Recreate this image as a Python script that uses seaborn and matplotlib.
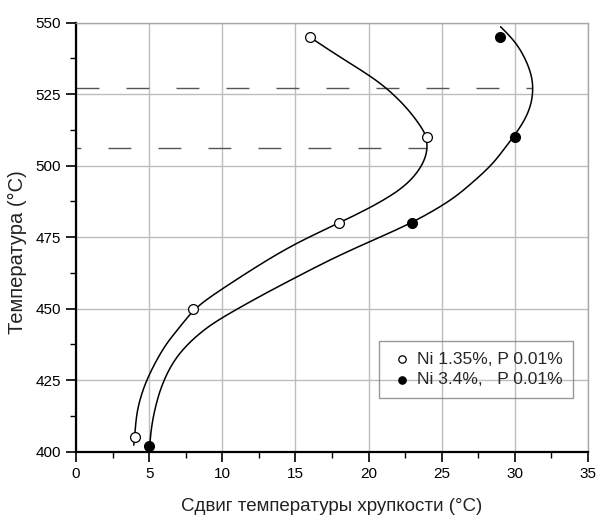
import matplotlib
matplotlib.use("Agg")
import matplotlib.pyplot as plt
from matplotlib.ticker import MultipleLocator
import numpy as np
import seaborn as sns

# Экспериментальные точки
shift_ni135 = [4, 8, 18, 24, 16]
temp_ni135 = [405, 450, 480, 510, 545]
shift_ni34 = [5, 23, 30, 29]
temp_ni34 = [402, 480, 510, 545]

labels = ["Ni 1.35%, P 0.01%", "Ni 3.4%,   P 0.01%"]

# Аппроксимирующие кривые
fit_x_ni135 = [3.95, 4.02, 4.13, 4.48, 4.93, 5.5, 6.18, 7.05, 8.0, 9.0, 10.04, 12.5,
               15.04, 18.0, 20.5, 22.54, 23.67, 24.05, 23.95, 23.75, 22.77, 21.4,
               20.04, 18.0, 16.0]
fit_y_ni135 = [402.3, 405.8, 413.4, 420.4, 426.2, 432.0, 437.9, 443.3, 449.5, 453.5,
               457.1, 465.3, 473.0, 480.0, 486.3, 492.7, 499.7, 505.5, 509.9, 512.5,
               519.5, 526.5, 531.7, 538.1, 544.9]
fit_x_ni34 = [5.04, 5.16, 5.5, 5.95, 6.63, 7.55, 8.68, 9.77, 12.5, 15.04, 17.5, 20.04,
              23.0, 25.5, 26.63, 28.34, 29.13, 29.92, 30.7, 31.15, 31.25, 31.15,
              30.72, 30.04, 29.02]
fit_y_ni34 = [402.3, 409.3, 417.5, 424.5, 431.5, 437.3, 442.4, 446.3, 454.2, 461.0,
              467.5, 473.4, 480.0, 487.4, 492.0, 499.7, 504.9, 510.2, 516.0, 521.8,
              527.1, 531.7, 537.5, 543.4, 548.6]

# Пунктирные уровни (максимумы кривых)
level_temp = [527.3, 506.3]
level_shift_end = [31.2, 24.0]


def smooth_trace(xs, ys, n=12):
    # гладкая линия по снятым точкам: кубический B-сплайн с закреплёнными концами
    pts = np.column_stack([xs, ys]).astype(float)
    P = np.vstack([pts[:1], pts[:1], pts, pts[-1:], pts[-1:]])
    t = np.linspace(0, 1, n, endpoint=False)[:, None]
    b0 = (1 - t) ** 3 / 6
    b1 = (3 * t ** 3 - 6 * t ** 2 + 4) / 6
    b2 = (-3 * t ** 3 + 3 * t ** 2 + 3 * t + 1) / 6
    b3 = t ** 3 / 6
    out = [b0 * P[i] + b1 * P[i + 1] + b2 * P[i + 2] + b3 * P[i + 3]
           for i in range(len(P) - 3)]
    out.append(pts[-1:])
    c = np.vstack(out)
    return c[:, 0], c[:, 1]


sns.set_theme(style="whitegrid")
plt.rcParams["font.family"] = ["Liberation Sans", "DejaVu Sans"]

fig = plt.figure(figsize=(5.98, 5.2), dpi=100)
ax = fig.add_axes([0.1271, 0.1313, 0.8562, 0.825])

# пунктир
ax.hlines(level_temp[0], 0, level_shift_end[0], color="#555555", lw=1.0,
          linestyles=[(0, (16.5, 19.5))], zorder=2)
ax.hlines(level_temp[1], 0, level_shift_end[1], color="#555555", lw=1.0,
          linestyles=[(13, (16.5, 19.5))], zorder=2)

for fx, fy in [(fit_x_ni135, fit_y_ni135), (fit_x_ni34, fit_y_ni34)]:
    sx, sy = smooth_trace(fx, fy)
    sns.lineplot(x=sx, y=sy, sort=False, estimator=None,
                 color="black", lw=1.1, ax=ax, zorder=3)

sns.scatterplot(x=shift_ni135, y=temp_ni135, marker="o", s=50, color="white",
                edgecolor="black", linewidth=0.9, ax=ax, zorder=4, label=labels[0])
sns.scatterplot(x=shift_ni34, y=temp_ni34, marker="o", s=50, color="black",
                edgecolor="black", linewidth=0.9, ax=ax, zorder=4, label=labels[1])

ax.set_xlim(0, 35)
ax.set_ylim(400, 550)
ax.xaxis.set_major_locator(MultipleLocator(5))
ax.xaxis.set_minor_locator(MultipleLocator(2.5))
ax.yaxis.set_major_locator(MultipleLocator(25))
ax.yaxis.set_minor_locator(MultipleLocator(12.5))
ax.grid(which="major", color="#bdbdbd", lw=1.0)
ax.grid(which="minor", visible=False)
ax.tick_params(which="major", direction="out", length=7, width=1.2, colors="black",
               labelsize=11, bottom=True, left=True, pad=4)
ax.tick_params(which="minor", direction="out", length=4, width=1.0, colors="black",
               bottom=True, left=True)

for side in ["left", "bottom"]:
    ax.spines[side].set_color("black")
    ax.spines[side].set_linewidth(1.6)
for side in ["top", "right"]:
    ax.spines[side].set_color("#a8a8a8")
    ax.spines[side].set_linewidth(1.0)

ax.set_xlabel("Сдвиг температуры хрупкости (°C)", fontsize=13.5, labelpad=12, color="#222222")
ax.set_ylabel("Температура (°C)", fontsize=14.5, color="#222222")
ax.yaxis.set_label_coords(-0.0957, 0.4655)

leg = ax.legend(loc="center right", bbox_to_anchor=(0.971, 0.192), borderaxespad=0,
                fontsize=12.5, frameon=True, fancybox=False, edgecolor="#808080",
                markerscale=0.75, handletextpad=0.1, handlelength=1.5, borderpad=0.6,
                labelspacing=0.3)
leg.get_frame().set_facecolor("none")
leg.get_frame().set_linewidth(1.0)

fig.savefig("out.png", dpi=100)
